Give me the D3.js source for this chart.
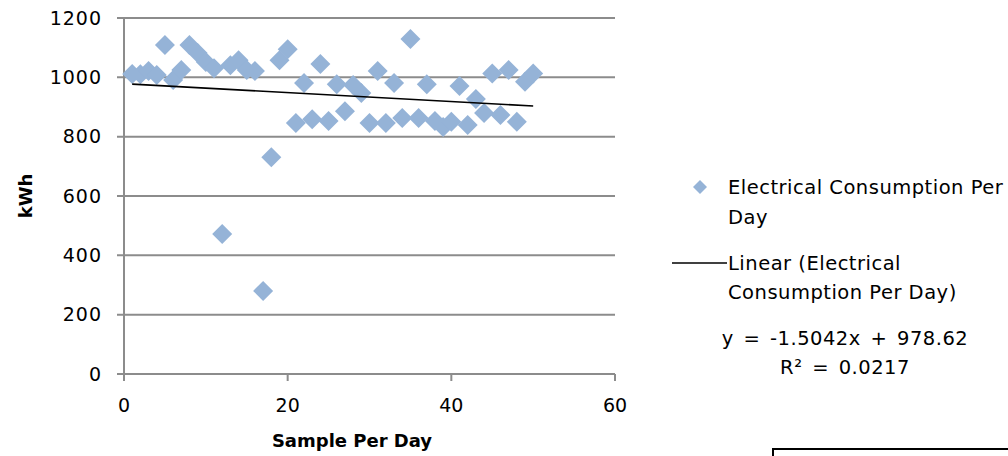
<!DOCTYPE html>
<html lang="en">
<head>
  <meta charset="UTF-8">
  <title>Electrical Consumption Per Day</title>
  <script src="https://d3js.org/d3.v7.min.js"></script>
  <style>
    body { margin: 0; padding: 0; background: #fff; }
    text { font-family: "DejaVu Sans", sans-serif; fill: #000; }
    .grid line { stroke: #8c8c8c; stroke-width: 2px; }
    .tick-label { font-size: 19px; }
    .ytick { letter-spacing: 1px; }
    .axis-title { font-size: 18px; font-weight: bold; }
    .legend text { font-size: 19.5px; letter-spacing: 0.5px; }
    .legend .eq { word-spacing: 3px; }
  </style>
</head>
<body>
<svg id="chart" width="1008" height="456"></svg>
<script>
// sample index 1..50
const days = d3.range(1, 51);
const kwh = [
  1011, 1010, 1021, 1008, 1109,  991, 1025, 1109, 1082, 1052,
  1031,  472, 1041, 1058, 1025, 1021,  280,  731, 1058, 1095,
   846,  981,  859, 1045,  853,  977,  886,  974,  947,  846,
  1021,  846,  981,  863, 1129,  863,  977,  853,  833,  850,
   971,  839,  927,  880, 1013,  873, 1025,  850,  985, 1013
];
const yTicks = [0, 200, 400, 600, 800, 1000, 1200];
const xTicks = [0, 20, 40, 60];
const slope = -1.5042, intercept = 978.62;
const equation = "y = -1.5042x + 978.62";
const r2text = "R² = 0.0217";

const svg = d3.select("#chart");
const x = d3.scaleLinear().domain([0, 60]).range([124, 615]);
const y = d3.scaleLinear().domain([0, 1200]).range([374, 18]);

// horizontal gridlines (extend left as tick marks)
const grid = svg.append("g").attr("class", "grid");
grid.selectAll("line.h")
  .data(yTicks)
  .join("line")
  .attr("x1", x(0) - 7).attr("x2", x(60))
  .attr("y1", d => y(d)).attr("y2", d => y(d));

// y axis line
grid.append("line")
  .attr("x1", x(0)).attr("x2", x(0))
  .attr("y1", y(1200)).attr("y2", y(0));

// x tick marks
grid.selectAll("line.xt")
  .data(xTicks)
  .join("line")
  .attr("class", "xt")
  .attr("x1", d => x(d)).attr("x2", d => x(d))
  .attr("y1", y(0)).attr("y2", y(0) + 7);

svg.append("g").selectAll("text")
  .data(yTicks)
  .join("text")
  .attr("class", "tick-label ytick")
  .attr("x", 102)
  .attr("y", d => y(d))
  .attr("dy", "0.35em")
  .attr("text-anchor", "end")
  .text(d => d);

svg.append("g").selectAll("text")
  .data(xTicks)
  .join("text")
  .attr("class", "tick-label")
  .attr("x", d => x(d))
  .attr("y", y(0) + 38)
  .attr("text-anchor", "middle")
  .text(d => d);

svg.append("text")
  .attr("class", "axis-title")
  .attr("transform", `translate(32,${y(600)}) rotate(-90)`)
  .attr("text-anchor", "middle")
  .text("kWh");

svg.append("text")
  .attr("class", "axis-title")
  .attr("x", 352)
  .attr("y", 447)
  .attr("text-anchor", "middle")
  .text("Sample Per Day");

// markers
const diamond = "M0,-10L10,0L0,10L-10,0Z";
svg.append("g").selectAll("path")
  .data(days)
  .join("path")
  .attr("d", diamond)
  .attr("fill", "#95b3d7")
  .attr("transform", (d, i) => `translate(${x(d)},${y(kwh[i])})`);

// trendline
const xMin = d3.min(days), xMax = d3.max(days);
svg.append("line")
  .attr("x1", x(xMin)).attr("y1", y(slope * xMin + intercept))
  .attr("x2", x(xMax)).attr("y2", y(slope * xMax + intercept))
  .attr("stroke", "#000")
  .attr("stroke-width", 1.6);

// legend
const lg = svg.append("g").attr("class", "legend");
lg.append("path")
  .attr("d", "M0,-7L7,0L0,7L-7,0Z")
  .attr("fill", "#95b3d7")
  .attr("transform", "translate(700,187)");
lg.append("text").attr("x", 728).attr("y", 187).attr("dy", "0.35em").text("Electrical Consumption Per");
lg.append("text").attr("x", 728).attr("y", 217).attr("dy", "0.35em").text("Day");
lg.append("line")
  .attr("x1", 672).attr("x2", 727).attr("y1", 263).attr("y2", 263)
  .attr("stroke", "#000").attr("stroke-width", 1.6);
lg.append("text").attr("x", 728).attr("y", 263).attr("dy", "0.35em").text("Linear (Electrical");
lg.append("text").attr("x", 728).attr("y", 292).attr("dy", "0.35em").text("Consumption Per Day)");
lg.append("text").attr("class", "eq").attr("x", 845).attr("y", 338).attr("dy", "0.35em").attr("text-anchor", "middle").text(equation);
lg.append("text").attr("class", "eq").attr("x", 845).attr("y", 367).attr("dy", "0.35em").attr("text-anchor", "middle").text(r2text);

// stray frame at bottom right
svg.append("rect")
  .attr("x", 773).attr("y", 449)
  .attr("width", 250).attr("height", 30)
  .attr("fill", "none").attr("stroke", "#000").attr("stroke-width", 2);
</script>
</body>
</html>
